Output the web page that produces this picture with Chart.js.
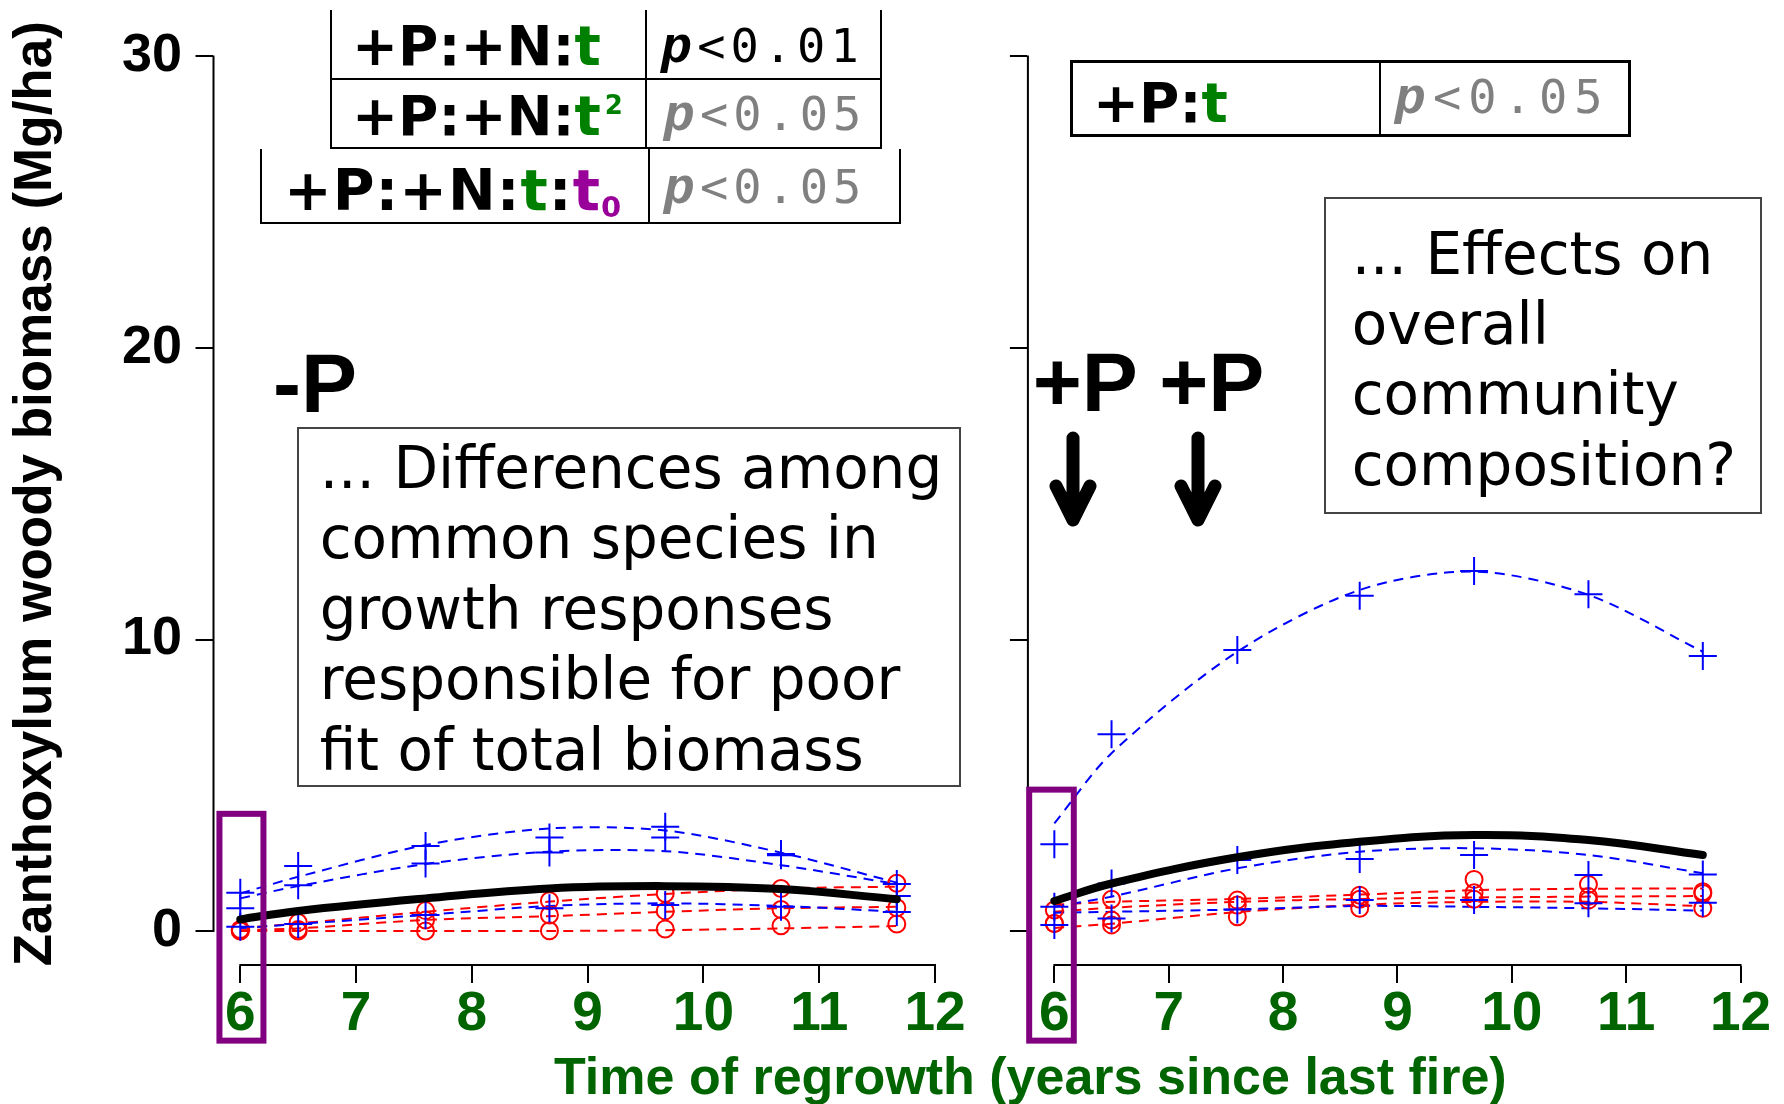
<!DOCTYPE html>
<html>
<head>
<meta charset="utf-8">
<script src="https://cdn.jsdelivr.net/npm/chart.js@4.4.1/dist/chart.umd.min.js"></script>
<style>
  html,body{margin:0;padding:0;background:#fff;}
  #page{position:relative;width:1784px;height:1104px;overflow:hidden;background:#fff;}
  canvas{position:absolute;left:0;top:0;}
  .t{position:absolute;line-height:0;white-space:pre;}
  .ln{position:absolute;background:#000;}
  .box{position:absolute;box-sizing:border-box;border:2px solid #444;}
  .g{color:#008000;}
  .pu{color:#990099;}
  .pp{font:bold italic 52px/0 "Liberation Mono",monospace;}
</style>
</head>
<body>
<div id="page">
  <canvas id="cLeft" width="1784" height="1104"></canvas>
  <canvas id="cRight" width="1784" height="1104"></canvas>
  <div id="ann"></div>
  <svg width="1784" height="1104" style="position:absolute;left:0;top:0">
    <g stroke="#000" stroke-width="13" stroke-linecap="round" stroke-linejoin="round" fill="none">
      <path d="M1073 438 L1073 518 M1056 486 L1073 520 L1090 486"/>
      <path d="M1198 438 L1198 518 M1181 486 L1198 520 L1215 486"/>
    </g>
  </svg>
</div>
<script>
/* Zanthoxylum woody biomass vs. time since last fire, -P and +P panels */
const TIMES=[6,6.5,7.6,8.67,9.67,10.67,11.67];
const X_TICKS=[6,7,8,9,10,11,12];
const Y_TICKS=[0,10,20,30];

// -P panel: observed plots (blue +, red o), per-plot fits (dashed), mean fit (black)
const NP_BLUE_OBS=[[1.31,2.23,2.92,3.21,3.58,2.64,1.61],[0.78,1.57,2.32,2.69,3.21,2.60,1.20],[0.15,0.24,0.55,0.78,0.89,0.83,0.65]];
const NP_RED_OBS=[[0.05,0.29,0.70,1.04,1.29,1.46,1.64],[0.03,0.05,0.38,0.55,0.69,0.74,0.80],[0.00,0.00,0.00,0.01,0.07,0.18,0.24]];
const NP_BLUE_FIT=[[1.29,1.86,2.95,3.52,3.45,2.69,1.66],[1.12,1.54,2.30,2.72,2.74,2.26,1.61],[0.10,0.24,0.55,0.86,0.95,0.86,0.66]];
const NP_RED_FIT=[[0.10,0.26,0.66,1.01,1.27,1.46,1.52],[0.03,0.09,0.38,0.51,0.66,0.78,0.83],[0.00,0.00,0.00,0.00,0.03,0.09,0.17]];
const NP_MEAN=[0.40,0.69,1.12,1.46,1.54,1.44,1.09];

// +P panel
const PP_BLUE_OBS=[[2.98,6.75,9.64,11.50,12.35,11.55,9.43],[0.83,1.63,2.44,2.47,2.61,1.92,1.94],[0.21,0.43,0.74,1.06,1.06,0.95,0.97]];
const PP_RED_OBS=[[0.72,1.09,1.06,1.23,1.77,1.60,1.35],[0.26,0.38,0.89,1.09,1.31,1.18,1.29],[0.26,0.21,0.49,0.78,1.09,1.06,0.78]];
const PP_BLUE_FIT=[[3.69,6.10,9.58,11.70,12.33,11.53,9.58],[0.83,1.18,2.15,2.72,2.84,2.61,1.98],[0.63,0.66,0.74,0.86,0.83,0.78,0.70]];
const PP_RED_FIT=[[0.90,1.00,1.10,1.25,1.40,1.45,1.46],[0.66,0.80,1.00,1.10,1.15,1.18,1.20],[0.10,0.25,0.65,0.90,1.00,1.00,0.85]];
const PP_MEAN=[1.03,1.63,2.53,3.06,3.29,3.12,2.61];

// purple "t0" boxes, in data units
const NP_BOX={x:[5.82,6.20],y:[-3.76,4.02]};
const PP_BOX={x:[5.78,6.17],y:[-3.76,4.85]};

const X_MIN=5.76,X_MAX=12.24,Y_MIN=-1.2,Y_MAX=31.2;
const PLOT_TOP=21.5,AXIS_H=138;

const xy=v=>TIMES.map((t,i)=>({x:t,y:v[i]}));
const fitLine=(v,c)=>({type:'line',data:xy(v),borderColor:c,borderWidth:2,borderDash:[10,7],
  pointRadius:0,tension:.3,fill:false,order:2});

function datasets(bObs,rObs,bFit,rFit,mean){
  const ds=[{type:'line',data:xy(mean),borderColor:'#000',borderWidth:8,tension:.4,pointRadius:0,
    borderCapStyle:'round',borderJoinStyle:'round',fill:false,order:0}];
  bFit.forEach(v=>ds.push(fitLine(v,'#0000ff')));
  rFit.forEach(v=>ds.push(fitLine(v,'#ff0000')));
  bObs.forEach(v=>ds.push({type:'scatter',data:xy(v),pointStyle:'cross',pointRadius:14,
    pointBorderWidth:2,pointBorderColor:'#0000ff',borderColor:'#0000ff',order:1}));
  rObs.forEach(v=>ds.push({type:'scatter',data:xy(v),pointStyle:'circle',pointRadius:8.5,
    pointBorderWidth:2,pointBorderColor:'#ff0000',borderColor:'#ff0000',
    pointBackgroundColor:'rgba(0,0,0,0)',backgroundColor:'rgba(0,0,0,0)',order:1}));
  return ds;
}

// axis lines span first..last tick (R style) + purple box
const frame={id:'frame',afterDraw(c,a,o){
  const ctx=c.ctx,x=c.scales.x,y=c.scales.y,A=c.chartArea;
  ctx.save();
  ctx.strokeStyle='#000'; ctx.lineWidth=2;
  ctx.beginPath();
  ctx.moveTo(x.getPixelForValue(X_TICKS[0])-1,A.bottom-1);
  ctx.lineTo(x.getPixelForValue(X_TICKS[X_TICKS.length-1])+1,A.bottom-1);
  ctx.moveTo(A.left+1,y.getPixelForValue(Y_TICKS[0])+1);
  ctx.lineTo(A.left+1,y.getPixelForValue(Y_TICKS[Y_TICKS.length-1])-1);
  ctx.stroke();
  const b=o.box;
  const x0=x.getPixelForValue(b.x[0]),x1=x.getPixelForValue(b.x[1]);
  const y0=y.getPixelForValue(b.y[1]),y1=y.getPixelForValue(b.y[0]);
  ctx.strokeStyle='#800080'; ctx.lineWidth=6;
  ctx.strokeRect(x0,y0,x1-x0,y1-y0);
  ctx.restore();
}};

function panel(id,o){
  return new Chart(document.getElementById(id),{
    type:'scatter',
    data:{datasets:datasets(o.bObs,o.rObs,o.bFit,o.rFit,o.mean)},
    options:{
      responsive:false,animation:false,events:[],
      layout:{padding:{left:0,right:o.padRight,top:PLOT_TOP,bottom:0}},
      plugins:{legend:{display:false},tooltip:{enabled:false},frame:{box:o.box}},
      scales:{
        x:{type:'linear',min:X_MIN,max:X_MAX,
          afterBuildTicks:s=>{s.ticks=X_TICKS.map(v=>({value:v}));},
          afterFit:s=>{s.height=AXIS_H;s.paddingLeft=0;s.paddingRight=0;},
          border:{display:false},
          grid:{drawOnChartArea:false,drawTicks:true,tickLength:17,lineWidth:2,tickWidth:2,color:'#000',tickColor:'#000'},
          ticks:{autoSkip:false,maxRotation:0,padding:4,color:'#006400',
            font:{family:'Liberation Sans',size:55,weight:'bold',lineHeight:1}}},
        y:{type:'linear',min:Y_MIN,max:Y_MAX,
          afterBuildTicks:s=>{s.ticks=Y_TICKS.map(v=>({value:v}));},
          afterFit:s=>{s.width=o.left;s.paddingTop=0;s.paddingBottom=0;},
          border:{display:false},
          grid:{drawOnChartArea:false,drawTicks:true,tickLength:17,lineWidth:2,tickWidth:2,color:'#000',tickColor:'#000'},
          ticks:{autoSkip:false,padding:13.5,color:'#000',callback:o.yLabels?(v=>v):(()=>''),
            font:{family:'Liberation Sans',size:54,weight:'bold'}},
          title:{display:!!o.yTitle,text:o.yTitle||'',color:'#000',padding:{top:5,bottom:0},
            font:{family:'Liberation Sans',size:53,weight:'bold'}}}
      }
    },
    plugins:[frame]
  });
}

panel('cLeft',{left:212.5,padRight:1784-962.8,box:NP_BOX,yLabels:true,
  yTitle:'Zanthoxylum woody biomass (Mg/ha)',
  bObs:NP_BLUE_OBS,rObs:NP_RED_OBS,bFit:NP_BLUE_FIT,rFit:NP_RED_FIT,mean:NP_MEAN});
panel('cRight',{left:1026.9,padRight:1784-1775.3,box:PP_BOX,yLabels:false,
  bObs:PP_BLUE_OBS,rObs:PP_RED_OBS,bFit:PP_BLUE_FIT,rFit:PP_RED_FIT,mean:PP_MEAN});

// ---- annotations (html text) ----
const ANN=document.getElementById('ann');
function put(html,x,base,size,font,extra){
  const d=document.createElement('div');
  d.className='t';
  d.style.font=font;
  d.style.lineHeight='0';
  d.style.left=x+'px';
  d.style.top=(base-0.346*size)+'px';
  if(extra) Object.assign(d.style,extra);
  d.innerHTML=html;
  ANN.appendChild(d);
  return d;
}
function rule(x,y,w,h){
  const d=document.createElement('div');
  d.className='ln';
  Object.assign(d.style,{left:x+'px',top:y+'px',width:w+'px',height:h+'px'});
  ANN.appendChild(d);
}
const vl=(x,y1,y2,w)=>rule(x-w/2,y1,w,y2-y1);
const hl=(x1,x2,y,w)=>rule(x1,y-w/2,x2-x1,w);
function box(x1,y1,x2,y2){
  const d=document.createElement('div');
  d.className='box';
  Object.assign(d.style,{left:x1+'px',top:y1+'px',width:(x2-x1)+'px',height:(y2-y1)+'px'});
  ANN.appendChild(d);
}

const TAB='bold 55px "DejaVu Sans",sans-serif';
const TAB3='bold 57px "DejaVu Sans",sans-serif';
const PV='47px "DejaVu Sans Mono",monospace';
const GREY='#808080';

// table 1 (two rows) + table 2
vl(331,10,149,2); vl(646.3,10,149,2); vl(881.4,10,149,2);
hl(331,881.4,79.3,2); hl(331,881.4,147.7,2);
vl(260.6,149,224,2); vl(648.6,149,224,2); vl(900.2,149,224,2);
hl(260.6,900.2,223.3,2);

put('+P:+N:<span class="g">t</span>',352,65,55,TAB);
put('<span class="pp">p</span>&lt;0.01',661,62,47,PV,{letterSpacing:'5px'});
put('+P:+N:<span class="g">t<span style="font-size:26px;position:relative;top:-21px;margin-left:4px">2</span></span>',352,135,55,TAB);
put('<span class="pp">p</span>&lt;0.05',663.7,130,47,PV,{color:GREY,letterSpacing:'5px'});
put('+P:+N:<span class="g">t</span>:<span class="pu">t<span style="font-size:29px;position:relative;top:7px">0</span></span>',284,210,57,TAB3,{letterSpacing:'1px'});
put('<span class="pp">p</span>&lt;0.05',663.7,203,47,PV,{color:GREY,letterSpacing:'5px'});

// right table
rule(1070.3,59.5,560.2,3); rule(1070.3,133.5,560.2,3);
vl(1071.8,59.5,136.5,3); vl(1629,59.5,136.5,3); vl(1380,59.5,136.5,2);
put('+P:<span class="g">t</span>',1093,121.7,55,TAB);
put('<span class="pp">p</span>&lt;0.05',1394.8,113,47,PV,{color:GREY,letterSpacing:'7px'});

// treatment labels
const BIG='bold 84px "Liberation Sans",sans-serif';
put('-P',273,412,84,BIG);
put('+P',1032.7,411,84,BIG);
put('+P',1159.3,411,84,BIG);

// text boxes
const BOXF='58px "DejaVu Sans",sans-serif';
box(297,427,961,787);
['... Differences among','common species in','growth responses','responsible for poor','fit of total biomass']
  .forEach((s,i)=>put(s,319.7,488+i*70.5,58,BOXF));
box(1324,197,1762,514);
['... Effects on','overall','community','composition?']
  .forEach((s,i)=>put(s,1351.7,274+i*70.2,58,BOXF));

// shared x-axis title
put('Time of regrowth (years since last fire)',554,1094,52,'bold 52px "Liberation Sans",sans-serif',{color:'#006400'});
</script>
</body>
</html>
